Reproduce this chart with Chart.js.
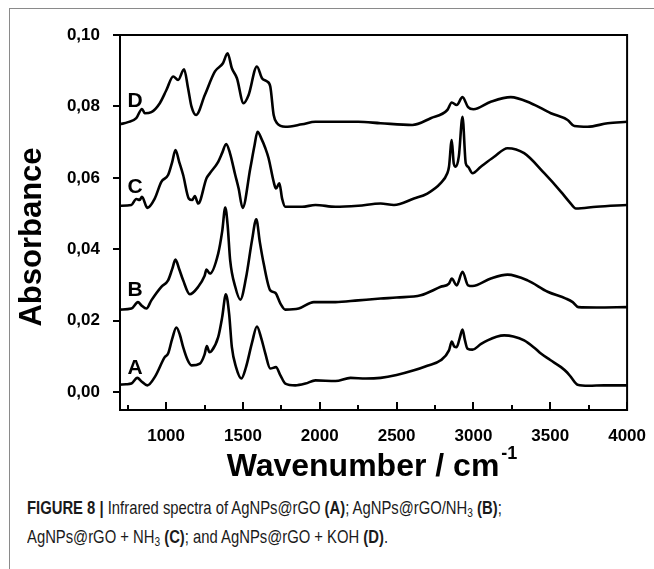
<!DOCTYPE html>
<html>
<head>
<meta charset="utf-8">
<script src="https://cdn.jsdelivr.net/npm/chart.js@4.4.0/dist/chart.umd.min.js"></script>
<style>
body { margin: 0; background: #fff; width: 654px; height: 569px; position: relative; overflow: hidden; }
#frame { position: absolute; left: 9px; top: 8px; width: 650px; height: 570px; border-left: 1px solid #8a8a8a; border-top: 1px solid #8a8a8a; }
#wrap { position: absolute; left: 0; top: 0; width: 654px; height: 490px; }
#cap { position: absolute; left: 27px; top: 493px; font-family: "Liberation Sans Narrow", "Arial Narrow", "Liberation Sans", sans-serif; font-size: 19px; line-height: 29px; color: #1a1a1a; white-space: nowrap; transform: scaleX(0.78); transform-origin: 0 0; }
#cap sub { font-size: 13px; vertical-align: -3px; line-height: 0; }
</style>
</head>
<body>
<div id="frame"></div>
<div id="wrap"><canvas id="IRChart" width="654" height="490"></canvas></div>
<div id="cap"><b>FIGURE 8 |</b> Infrared spectra of AgNPs@rGO <b>(A)</b>; AgNPs@rGO/NH<sub>3</sub> <b>(B)</b>;<br>AgNPs@rGO + NH<sub>3</sub> <b>(C)</b>; and AgNPs@rGO + KOH <b>(D)</b>.</div>
<script>
// spectra (wavenumber in cm-1, absorbance)
const wnA = [700, 740, 774, 813, 840, 878, 930, 991, 1013, 1040, 1067, 1090, 1111, 1140, 1165, 1220, 1250, 1265, 1282, 1296, 1339, 1365, 1389, 1410, 1428, 1455, 1490, 1520, 1560, 1591, 1620, 1646, 1678, 1715, 1744, 1776, 1841, 1907, 1972, 2102, 2200, 2300, 2396, 2500, 2613, 2700, 2787, 2841, 2859, 2875, 2891, 2910, 2929, 2945, 2961, 2994, 3050, 3092, 3150, 3200, 3260, 3330, 3400, 3439, 3500, 3570, 3610, 3635, 3678, 3750, 3850, 4000];
const absA = [0.0021, 0.0022, 0.0024, 0.0040, 0.0030, 0.0019, 0.0045, 0.0098, 0.0108, 0.0150, 0.0181, 0.0160, 0.0126, 0.0090, 0.0075, 0.0080, 0.0105, 0.0129, 0.0112, 0.0115, 0.0154, 0.0210, 0.0274, 0.0220, 0.0126, 0.0070, 0.0038, 0.0070, 0.0140, 0.0184, 0.0150, 0.0108, 0.0066, 0.0070, 0.0047, 0.0024, 0.0019, 0.0024, 0.0033, 0.0031, 0.0040, 0.0038, 0.0040, 0.0048, 0.0061, 0.0074, 0.0089, 0.0117, 0.0142, 0.0128, 0.0126, 0.0150, 0.0175, 0.0145, 0.0122, 0.0119, 0.0135, 0.0145, 0.0155, 0.0159, 0.0156, 0.0145, 0.0123, 0.0108, 0.0090, 0.0070, 0.0055, 0.0042, 0.0021, 0.0018, 0.0019, 0.0019];

const wnB = [700, 774, 817, 839, 872, 904, 969, 1013, 1040, 1061, 1085, 1111, 1154, 1209, 1250, 1263, 1285, 1339, 1365, 1385, 1400, 1417, 1450, 1483, 1520, 1559, 1587, 1610, 1635, 1678, 1711, 1744, 1776, 1863, 1961, 2102, 2250, 2396, 2500, 2657, 2787, 2841, 2859, 2891, 2929, 2965, 2994, 3113, 3222, 3352, 3483, 3602, 3646, 3683, 3800, 4000];
const absB = [0.0231, 0.0234, 0.0252, 0.0243, 0.0234, 0.0257, 0.0295, 0.0313, 0.0345, 0.0371, 0.0345, 0.0313, 0.0274, 0.0295, 0.0325, 0.0343, 0.0332, 0.0388, 0.0450, 0.0517, 0.0470, 0.0369, 0.0295, 0.0259, 0.0320, 0.0425, 0.0484, 0.0420, 0.0360, 0.0285, 0.0278, 0.0248, 0.0231, 0.0234, 0.0252, 0.0252, 0.0257, 0.0262, 0.0265, 0.0271, 0.0295, 0.0304, 0.0318, 0.0299, 0.0337, 0.0299, 0.0297, 0.0318, 0.0329, 0.0313, 0.0281, 0.0262, 0.0252, 0.0238, 0.0237, 0.0238];

const wnC = [700, 774, 806, 828, 843, 878, 926, 969, 1013, 1040, 1061, 1085, 1111, 1148, 1170, 1187, 1209, 1263, 1285, 1339, 1365, 1391, 1415, 1450, 1472, 1498, 1548, 1575, 1595, 1620, 1646, 1667, 1700, 1715, 1737, 1755, 1776, 1885, 1972, 2102, 2250, 2396, 2483, 2613, 2700, 2787, 2830, 2841, 2859, 2872, 2885, 2905, 2929, 2950, 2965, 2994, 3048, 3135, 3222, 3330, 3461, 3570, 3624, 3667, 3800, 4000];
const absC = [0.0522, 0.0524, 0.0541, 0.0538, 0.0547, 0.0516, 0.0542, 0.0589, 0.0608, 0.0645, 0.0678, 0.0645, 0.0608, 0.0542, 0.0538, 0.0549, 0.0528, 0.0599, 0.0613, 0.0645, 0.0670, 0.0695, 0.0670, 0.0608, 0.0570, 0.0516, 0.0627, 0.0690, 0.0729, 0.0710, 0.0683, 0.0655, 0.0589, 0.0570, 0.0585, 0.0542, 0.0519, 0.0519, 0.0524, 0.0519, 0.0522, 0.0528, 0.0524, 0.0542, 0.0556, 0.0585, 0.0613, 0.0631, 0.0706, 0.0640, 0.0631, 0.0660, 0.0771, 0.0641, 0.0631, 0.0613, 0.0631, 0.0659, 0.0683, 0.0669, 0.0613, 0.0561, 0.0533, 0.0514, 0.0519, 0.0524];

const wnD = [700, 752, 806, 843, 861, 904, 959, 1002, 1046, 1078, 1117, 1143, 1165, 1195, 1252, 1318, 1370, 1400, 1428, 1461, 1504, 1537, 1591, 1624, 1657, 1678, 1700, 1722, 1776, 1885, 1972, 2100, 2250, 2396, 2602, 2722, 2830, 2859, 2891, 2929, 2965, 3000, 3113, 3243, 3374, 3504, 3613, 3657, 3743, 3874, 4000];
const absD = [0.0750, 0.0756, 0.0767, 0.0793, 0.0781, 0.0784, 0.0809, 0.0846, 0.0884, 0.0874, 0.0904, 0.0851, 0.0800, 0.0776, 0.0832, 0.0898, 0.0921, 0.0949, 0.0907, 0.0879, 0.0809, 0.0832, 0.0912, 0.0879, 0.0870, 0.0856, 0.0776, 0.0753, 0.0743, 0.0750, 0.0757, 0.0757, 0.0757, 0.0753, 0.0748, 0.0767, 0.0790, 0.0811, 0.0804, 0.0826, 0.0798, 0.0792, 0.0813, 0.0826, 0.0809, 0.0781, 0.0762, 0.0745, 0.0743, 0.0753, 0.0757];

const xTicks = [1000, 1500, 2000, 2500, 3000, 3500, 4000];
const xMinorTicks = [750, 1250, 1750, 2250, 2750, 3250, 3750];
const yTicks = [0.00, 0.02, 0.04, 0.06, 0.08, 0.10];

const curveNames = ['A', 'B', 'C', 'D'];
const nameWn = [798, 798, 798, 798];
const nameAbs = [0.0066, 0.0285, 0.0575, 0.0816];

const FONT = '"Liberation Sans", Arial, sans-serif';

function pts(wn, ab) {
    return wn.map((w, i) => ({ x: w, y: ab[i] }));
}

function curve(label, wn, ab) {
    return {
        label: label,
        data: pts(wn, ab),
        borderColor: '#000',
        borderWidth: 2.6,
        pointRadius: 0,
        fill: false,
        cubicInterpolationMode: 'monotone'
    };
}

const framePlugin = {
    id: 'frame',
    afterDraw(chart) {
        const ctx = chart.ctx;
        const a = chart.chartArea;
        const xs = chart.scales.x;
        const ys = chart.scales.y;
        ctx.save();
        ctx.strokeStyle = '#000';
        ctx.lineWidth = 2;
        ctx.strokeRect(a.left, a.top, a.right - a.left, a.bottom - a.top);
        ctx.beginPath();
        yTicks.forEach(v => {
            const y = Math.round(ys.getPixelForValue(v));
            ctx.moveTo(a.left - 7, y);
            ctx.lineTo(a.left, y);
        });
        xTicks.forEach(v => {
            const x = Math.round(xs.getPixelForValue(v));
            ctx.moveTo(x, a.bottom);
            ctx.lineTo(x, a.bottom - 8);
        });
        xMinorTicks.forEach(v => {
            const x = Math.round(xs.getPixelForValue(v));
            ctx.moveTo(x, a.bottom);
            ctx.lineTo(x, a.bottom - 5);
        });
        ctx.stroke();

        // curve letters
        ctx.fillStyle = '#000';
        ctx.font = 'bold 21px ' + FONT;
        ctx.textAlign = 'center';
        ctx.textBaseline = 'middle';
        curveNames.forEach((n, i) => {
            ctx.fillText(n, xs.getPixelForValue(nameWn[i]), ys.getPixelForValue(nameAbs[i]));
        });

        // y title
        ctx.save();
        ctx.translate(32, 237);
        ctx.rotate(-Math.PI / 2);
        ctx.font = 'bold 31px ' + FONT;
        ctx.fillText('Absorbance', 0, 0);
        ctx.restore();

        // x title with superscript
        ctx.textAlign = 'left';
        ctx.textBaseline = 'alphabetic';
        ctx.font = 'bold 32px ' + FONT;
        const main = 'Wavenumber / cm';
        const wMain = ctx.measureText(main).width;
        ctx.font = 'bold 18px ' + FONT;
        const wSup = ctx.measureText('-1').width;
        const x0 = 372 - (wMain + wSup + 2) / 2;
        ctx.font = 'bold 32px ' + FONT;
        ctx.fillText(main, x0, 476);
        ctx.font = 'bold 18px ' + FONT;
        ctx.fillText('-1', x0 + wMain + 2, 459);
        ctx.restore();
    }
};

const ctxIR = document.getElementById('IRChart');
const dataIR = {
    datasets: [
        curve('A', wnA, absA),
        curve('B', wnB, absB),
        curve('C', wnC, absC),
        curve('D', wnD, absD)
    ]
};
const configIR = {
    type: 'line',
    data: dataIR,
    options: {
        responsive: false,
        animation: false,
        layout: { padding: { left: 0, top: 35, right: 26, bottom: 0 } },
        plugins: { legend: { display: false }, tooltip: { enabled: false } },
        scales: {
            x: {
                type: 'linear',
                min: 700,
                max: 4000,
                grid: { display: false },
                border: { display: false },
                ticks: {
                    color: '#000',
                    font: { family: FONT, size: 17, weight: 'bold' },
                    padding: 8,
                    autoSkip: false,
                    maxRotation: 0,
                    callback: v => String(v)
                },
                afterBuildTicks: s => { s.ticks = xTicks.map(v => ({ value: v })); },
                afterFit: s => { s.height = 80; }
            },
            y: {
                type: 'linear',
                min: -0.005,
                max: 0.10,
                grid: { display: false },
                border: { display: false },
                ticks: {
                    color: '#000',
                    font: { family: FONT, size: 17, weight: 'bold' },
                    padding: 12,
                    callback: v => v.toFixed(2).replace('.', ',')
                },
                afterBuildTicks: s => { s.ticks = yTicks.map(v => ({ value: v })); },
                afterFit: s => { s.width = 120; }
            }
        }
    },
    plugins: [framePlugin]
};
new Chart(ctxIR, configIR);
</script>
</body>
</html>
